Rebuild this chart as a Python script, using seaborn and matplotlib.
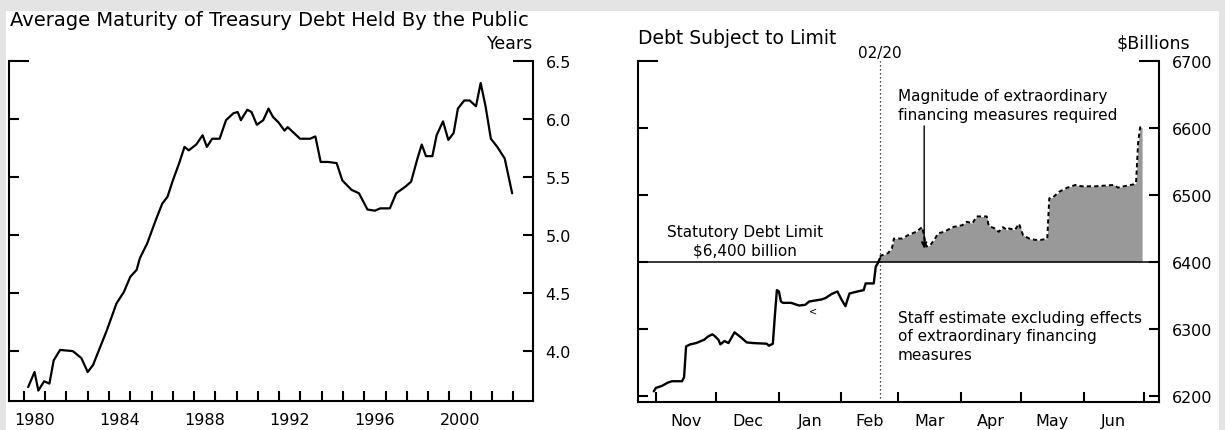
import numpy as np
import pandas as pd
import matplotlib
matplotlib.use("Agg")
import matplotlib.pyplot as plt
from matplotlib.patches import Rectangle
import seaborn as sns

# Average maturity of Treasury debt held by the public (years)
maturity_year = [
    1980.2, 1980.5, 1980.68, 1980.95, 1981.2, 1981.4, 1981.7, 1982.3, 1982.7, 1983.0,
    1983.25, 1983.9, 1984.35, 1984.7, 1985.0, 1985.3, 1985.45, 1985.8, 1986.2, 1986.5,
    1986.75, 1987.0, 1987.3, 1987.55, 1987.75, 1988.1, 1988.4, 1988.6, 1988.85, 1989.2,
    1989.5, 1989.85, 1990.05, 1990.2, 1990.5, 1990.7, 1990.95, 1991.25, 1991.5, 1991.7,
    1991.97, 1992.25, 1992.4, 1992.98, 1993.45, 1993.7, 1993.95, 1994.3, 1994.7, 1994.97,
    1995.4, 1995.75, 1996.15, 1996.5, 1996.75, 1997.2, 1997.5, 1997.95, 1998.2, 1998.5,
    1998.7, 1998.9, 1999.2, 1999.4, 1999.7, 1999.95, 2000.2, 2000.4, 2000.7, 2000.95,
    2001.25, 2001.47, 2001.7, 2001.95, 2002.25, 2002.6, 2002.95,
]
maturity_value = [
    3.69, 3.82, 3.66, 3.74, 3.72, 3.92, 4.01, 4.00, 3.94, 3.82,
    3.88, 4.18, 4.41, 4.51, 4.64, 4.70, 4.80, 4.93, 5.13, 5.27,
    5.33, 5.47, 5.62, 5.76, 5.73, 5.78, 5.86, 5.76, 5.83, 5.83,
    5.99, 6.05, 6.06, 5.99, 6.08, 6.06, 5.95, 5.99, 6.09, 6.02,
    5.97, 5.90, 5.93, 5.83, 5.83, 5.85, 5.63, 5.63, 5.62, 5.47,
    5.39, 5.36, 5.22, 5.21, 5.23, 5.23, 5.36, 5.42, 5.46, 5.66,
    5.78, 5.68, 5.68, 5.86, 5.98, 5.82, 5.88, 6.09, 6.16, 6.16,
    6.11, 6.31, 6.11, 5.83, 5.76, 5.66, 5.36,
]

# Debt subject to limit, staff estimate excluding extraordinary measures ($ billions)
staff_dates = [
    "2002-10-31", "2002-11-01", "2002-11-04", "2002-11-07", "2002-11-09", "2002-11-14",
    "2002-11-15", "2002-11-16", "2002-11-18", "2002-11-21", "2002-11-25", "2002-11-27",
    "2002-11-29", "2002-11-30", "2002-12-02", "2002-12-03", "2002-12-05", "2002-12-07",
    "2002-12-10", "2002-12-13", "2002-12-16", "2002-12-19", "2002-12-26", "2002-12-27",
    "2002-12-29", "2002-12-30", "2002-12-31", "2003-01-01", "2003-01-02", "2003-01-03",
    "2003-01-07", "2003-01-11", "2003-01-14", "2003-01-16", "2003-01-22", "2003-01-24",
    "2003-01-27", "2003-01-30", "2003-02-01", "2003-02-03", "2003-02-04", "2003-02-05",
    "2003-02-09", "2003-02-12", "2003-02-13", "2003-02-17", "2003-02-18", "2003-02-19",
    "2003-02-20",
]
staff_debt = [
    6207, 6212, 6215, 6220, 6222, 6222,
    6228, 6274, 6277, 6279, 6284, 6289,
    6292, 6290, 6284, 6277, 6282, 6279,
    6295, 6288, 6280, 6279, 6278, 6275,
    6278, 6320, 6358, 6356, 6341, 6339,
    6339, 6335, 6336, 6341, 6344, 6346,
    6352, 6356, 6344, 6334, 6344, 6353,
    6356, 6358, 6368, 6368, 6393, 6398,
    6405,
]

# Debt path above the limit, covered by extraordinary financing measures
measures_dates = [
    "2003-02-20", "2003-02-21", "2003-02-24", "2003-02-26", "2003-02-27", "2003-03-03",
    "2003-03-06", "2003-03-10", "2003-03-13", "2003-03-14", "2003-03-15", "2003-03-17",
    "2003-03-19", "2003-03-21", "2003-03-24", "2003-03-28", "2003-04-02", "2003-04-04",
    "2003-04-07", "2003-04-09", "2003-04-14", "2003-04-15", "2003-04-18", "2003-04-20",
    "2003-04-22", "2003-04-24", "2003-04-25", "2003-04-28", "2003-04-30", "2003-05-02",
    "2003-05-05", "2003-05-08", "2003-05-11", "2003-05-14", "2003-05-15", "2003-05-17",
    "2003-05-20", "2003-05-24", "2003-05-28", "2003-05-31", "2003-06-07", "2003-06-16",
    "2003-06-18", "2003-06-21", "2003-06-26", "2003-06-27", "2003-06-28", "2003-06-29",
    "2003-06-30",
]
measures_debt = [
    6408, 6410, 6413, 6420, 6435, 6435,
    6440, 6445, 6452, 6438, 6423, 6425,
    6433, 6443, 6445, 6452, 6455, 6460,
    6458, 6468, 6468, 6454, 6450, 6445,
    6452, 6448, 6450, 6448, 6457, 6440,
    6435, 6433, 6433, 6435, 6495, 6497,
    6505, 6511, 6515, 6513, 6513, 6515,
    6511, 6513, 6516, 6518, 6577, 6601,
    6601,
]

debt_limit = 6400
limit_date = "2003-02-20"

maturity_ticks = [6.5, 6.0, 5.5, 5.0, 4.5, 4.0]
maturity_label_years = [1980, 1984, 1988, 1992, 1996, 2000]
debt_ticks = [6700, 6600, 6500, 6400, 6300, 6200]
month_starts = ["2002-11-01", "2002-12-01", "2003-01-01", "2003-02-01", "2003-03-01",
                "2003-04-01", "2003-05-01", "2003-06-01", "2003-07-01"]
month_labels = ["Nov", "Dec", "Jan", "Feb", "Mar", "Apr", "May", "Jun"]

sns.set_theme(style="white")
plt.rcParams["font.family"] = ["DejaVu Sans"]
plt.rcParams["text.parse_math"] = False

W, H = 1225, 431
frame_grey = "#e4e4e4"
fig = plt.figure(figsize=(W / 100, H / 100), dpi=100, facecolor=frame_grey)
fig.add_artist(Rectangle((6 / W, 0), (1219 - 6) / W, (H - 12) / H,
                         transform=fig.transFigure, facecolor="white",
                         edgecolor="none", zorder=-10))


def px_box(x0, x1, ytop, ybot):
    return [x0 / W, (H - ybot) / H, (x1 - x0) / W, (ybot - ytop) / H]


axL = fig.add_axes(px_box(9, 533, 62, 402))
axR = fig.add_axes(px_box(638, 1159, 62, 403))

ink = "black"
spine_w = 1.5
tick_len = 7.2
for ax in (axL, axR):
    ax.set_facecolor("none")
    ax.spines["top"].set_visible(False)
    for side in ("left", "right", "bottom"):
        ax.spines[side].set_visible(True)
        ax.spines[side].set_color(ink)
        ax.spines[side].set_linewidth(spine_w)
    ax.grid(False)

# ---- left panel: average maturity ----
sns.lineplot(x=maturity_year, y=maturity_value, ax=axL, color=ink, lw=1.6,
             estimator=None)
axL.set_xlim(1979.3, 2003.93)
axL.set_ylim(3.57, 6.5)
axL.set_yticks(maturity_ticks)
axL.set_yticklabels([f"{v:.1f}" for v in maturity_ticks])
axL.set_xticks(np.arange(1980, 2004))
axL.set_xticklabels([])
axL.set_xticks([y + 0.5 for y in maturity_label_years], minor=True)
axL.set_xticklabels([str(y) for y in maturity_label_years], minor=True)
axL.set_xlabel("")
axL.set_ylabel("")

# ---- right panel: debt subject to limit ----
staff_x = pd.to_datetime(staff_dates)
meas_x = pd.to_datetime(measures_dates)
axR.fill_between(meas_x, debt_limit, measures_debt, color="#999999", lw=0, zorder=1)
sns.lineplot(x=meas_x, y=measures_debt, ax=axR, color=ink, lw=1.4,
             linestyle=(0, (2.2, 1.6)), estimator=None, zorder=3)
sns.lineplot(x=staff_x, y=staff_debt, ax=axR, color=ink, lw=1.7,
             estimator=None, zorder=3)
axR.axhline(debt_limit, color=ink, lw=1.1, zorder=2)
axR.axvline(pd.Timestamp(limit_date), color=ink, lw=0.9, ls=(0, (1, 2.2)), zorder=2)
axR.set_xlim(pd.Timestamp("2002-10-23 04:00"), pd.Timestamp("2003-07-08 09:00"))
axR.set_ylim(6191, 6700)
axR.set_yticks(debt_ticks)
axR.set_yticklabels([str(v) for v in debt_ticks])
ms = pd.to_datetime(month_starts)
axR.set_xticks(ms)
axR.set_xticklabels([])
mids = [ms[i] + (ms[i + 1] - ms[i]) / 2 for i in range(len(month_labels))]
axR.set_xticks(mids, minor=True)
axR.set_xticklabels(month_labels, minor=True)
axR.set_xlabel("")
axR.set_ylabel("")

for ax in (axL, axR):
    ax.tick_params(axis="y", which="major", direction="in", left=True, right=True,
                   labelleft=False, labelright=True, length=tick_len, width=spine_w,
                   color=ink, pad=9, labelsize=11.5, labelcolor=ink)
    ax.tick_params(axis="x", which="major", direction="in", bottom=True, top=False,
                   labelbottom=False, length=tick_len, width=spine_w, color=ink)
    ax.tick_params(axis="x", which="minor", bottom=True, length=0, pad=8,
                   labelsize=11.5, labelcolor=ink)
    # the top tick on each side runs twice as long, closing the frame corner
    top_tick = ax.yaxis.get_major_ticks()[0]
    top_tick.tick1line.set_markersize(tick_len * 2)
    top_tick.tick2line.set_markersize(tick_len * 2)

# annotations on the debt panel
axR.text(pd.Timestamp("2002-12-15"), 6406, "Statutory Debt Limit\n$6,400 billion",
         ha="center", va="bottom", fontsize=11, linespacing=1.3, color=ink)
axR.text(pd.Timestamp("2003-03-01"), 6634,
         "Magnitude of extraordinary\nfinancing measures required",
         ha="left", va="center", fontsize=11, linespacing=1.3, color=ink)
axR.annotate("", xy=(pd.Timestamp("2003-03-14"), 6420),
             xytext=(pd.Timestamp("2003-03-14"), 6603),
             arrowprops=dict(arrowstyle="-|>", lw=1.0, color=ink, mutation_scale=9,
                             shrinkA=0, shrinkB=0))
axR.text(pd.Timestamp("2003-03-01"), 6290,
         "Staff estimate excluding effects\nof extraordinary financing\nmeasures",
         ha="left", va="center", fontsize=11, linespacing=1.3, color=ink)
axR.text(pd.Timestamp("2003-01-18"), 6327, "<", ha="center", va="center",
         fontsize=7, color=ink)
axR.annotate("02/20", xy=(pd.Timestamp(limit_date), 1.0),
             xycoords=("data", "axes fraction"), xytext=(0, 6), textcoords="offset points",
             ha="center", va="center", fontsize=11, color=ink)

# panel titles and units
fig.text(10 / W, 1 - 21 / H, "Average Maturity of Treasury Debt Held By the Public",
         ha="left", va="center", fontsize=14, color=ink)
fig.text(533 / W, 1 - 44 / H, "Years", ha="right", va="center", fontsize=12.5, color=ink)
fig.text(638 / W, 1 - 38 / H, "Debt Subject to Limit", ha="left", va="center",
         fontsize=13.5, color=ink)
fig.text(1190 / W, 1 - 44 / H, "$Billions", ha="right", va="center", fontsize=12.5,
         color=ink)

# the right-hand tick labels are cut off just short of the frame edge
fig.add_artist(Rectangle((1211 / W, 0), 8 / W, (H - 12) / H, transform=fig.transFigure,
                         facecolor="white", edgecolor="none", zorder=19))
fig.add_artist(Rectangle((1219 / W, 0), 6 / W, 1, transform=fig.transFigure,
                         facecolor=frame_grey, edgecolor="none", zorder=20))

fig.savefig("out.png", dpi=100, facecolor=fig.get_facecolor())
